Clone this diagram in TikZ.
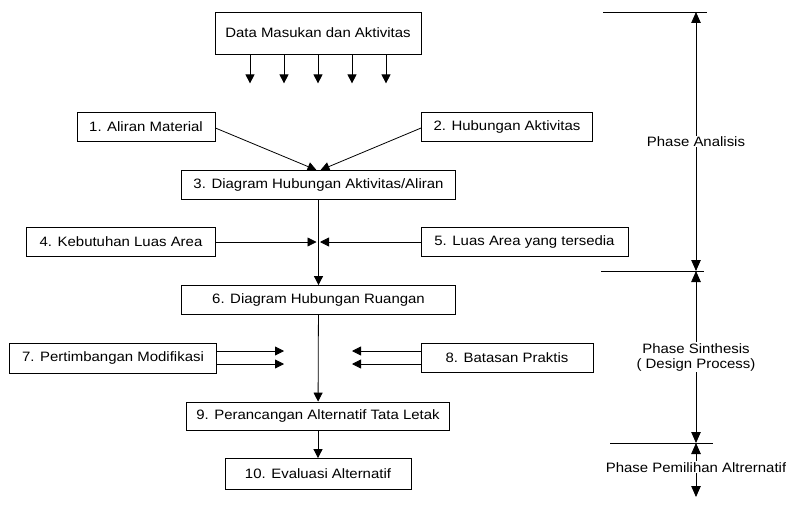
\documentclass[tikz,border=0pt]{standalone}
\usepackage{fontspec}
\setmainfont[FakeStretch=1.1]{Liberation Sans}
\usetikzlibrary{arrows.meta}

\begin{document}
\begin{tikzpicture}[
  x=1pt,y=-1pt,
  font=\fontsize{13.6pt}{15pt}\selectfont,
  stage/.style={draw,line width=.8pt,inner sep=2pt,minimum height=29pt},
  flow/.style={line width=.8pt,-{Triangle[length=9pt,width=9pt]}},
  span/.style={line width=.8pt,
    {Triangle[length=11pt,width=9.5pt]}-{Triangle[length=11pt,width=9.5pt]}},
  phase/.style={fill=white,inner sep=1pt,align=center}
]
  \useasboundingbox (0,0) rectangle (786,508);

  % main column
  \node[stage,minimum width=206pt,minimum height=42pt] (data) at (318,33) {Data Masukan dan Aktivitas};
  \node[stage,minimum width=138pt] (aliran) at (146,127) {1. Aliran Material};
  \node[stage,minimum width=171pt] (hub) at (507,127) {2. Hubungan Aktivitas};
  \node[stage,minimum width=274pt] (dhak) at (318.5,185) {3. Diagram Hubungan Aktivitas/Aliran};
  \node[stage,minimum width=189pt] (butuh) at (121,242) {4. Kebutuhan Luas Area};
  \node[stage,minimum width=207pt] (sedia) at (524.5,242) {5. Luas Area yang tersedia};
  \node[stage,minimum width=274pt] (dhr) at (318.5,300) {6. Diagram Hubungan Ruangan};
  \node[stage,minimum width=207pt,minimum height=30pt] (modif) at (113,358) {7. Pertimbangan Modifikasi};
  \node[stage,minimum width=172pt] (praktis) at (507,358) {8. Batasan Praktis};
  \node[stage,minimum width=263pt,minimum height=28pt] (rancang) at (318,416) {9. Perancangan Alternatif Tata Letak};
  \node[stage,minimum width=186pt,minimum height=31pt] (evaluasi) at (318,474) {10. Evaluasi Alternatif};

  % inputs from the top box
  \foreach \dx [count=\i] in {-68,-34,0,34,68} {
    \coordinate (in\i) at ([xshift=\dx pt]data.south);
    \coordinate (out\i) at ([xshift=\dx pt,yshift=-29pt]data.south);
    \draw[flow] (in\i) -- (out\i);
  }

  \draw[flow] ([yshift=-1pt]aliran.east) -- ([xshift=-2pt]dhak.north);
  \draw[flow] ([yshift=-1pt]hub.west) -- ([xshift=2pt]dhak.north);

  \coordinate (jl) at (316.5,242);
  \coordinate (jr) at (320,242);
  \draw[flow] (butuh) -- (jl);
  \draw[flow] (sedia) -- (jr);
  \draw[flow] (dhak) -- (dhr);
  \draw[flow] (dhr) -- (rancang);
  \draw[flow] (rancang) -- (evaluasi);

  % side constraints
  \coordinate (ml1) at (284,351);
  \coordinate (ml2) at (284,364);
  \coordinate (mr1) at (352,351);
  \coordinate (mr2) at (352,364);
  \draw[flow] (modif.east |- ml1) -- (ml1);
  \draw[flow] (modif.east |- ml2) -- (ml2);
  \draw[flow] (praktis.west |- mr1) -- (mr1);
  \draw[flow] (praktis.west |- mr2) -- (mr2);

  % phases
  \coordinate (p0) at (696,12);
  \coordinate (p1) at (696,271);
  \coordinate (p2) at (696,443);
  \coordinate (p3) at (696,497);
  \draw[line width=.8pt] (603,12) -- (707,12);
  \draw[line width=.8pt] (601,271) -- (704,271);
  \draw[line width=.8pt] (610,443) -- (713,443);
  \draw[span] (p0) -- node[phase,pos=.5] (analisis) {Phase Analisis} (p1);
  \draw[span] (p1) -- node[phase] (sintesis) {Phase Sinthesis\\( Design Process)} (p2);
  \draw[span] (p2) -- node[phase,pos=.45] (pilih) {Phase Pemilihan Altrernatif} (p3);
\end{tikzpicture}
\end{document}
